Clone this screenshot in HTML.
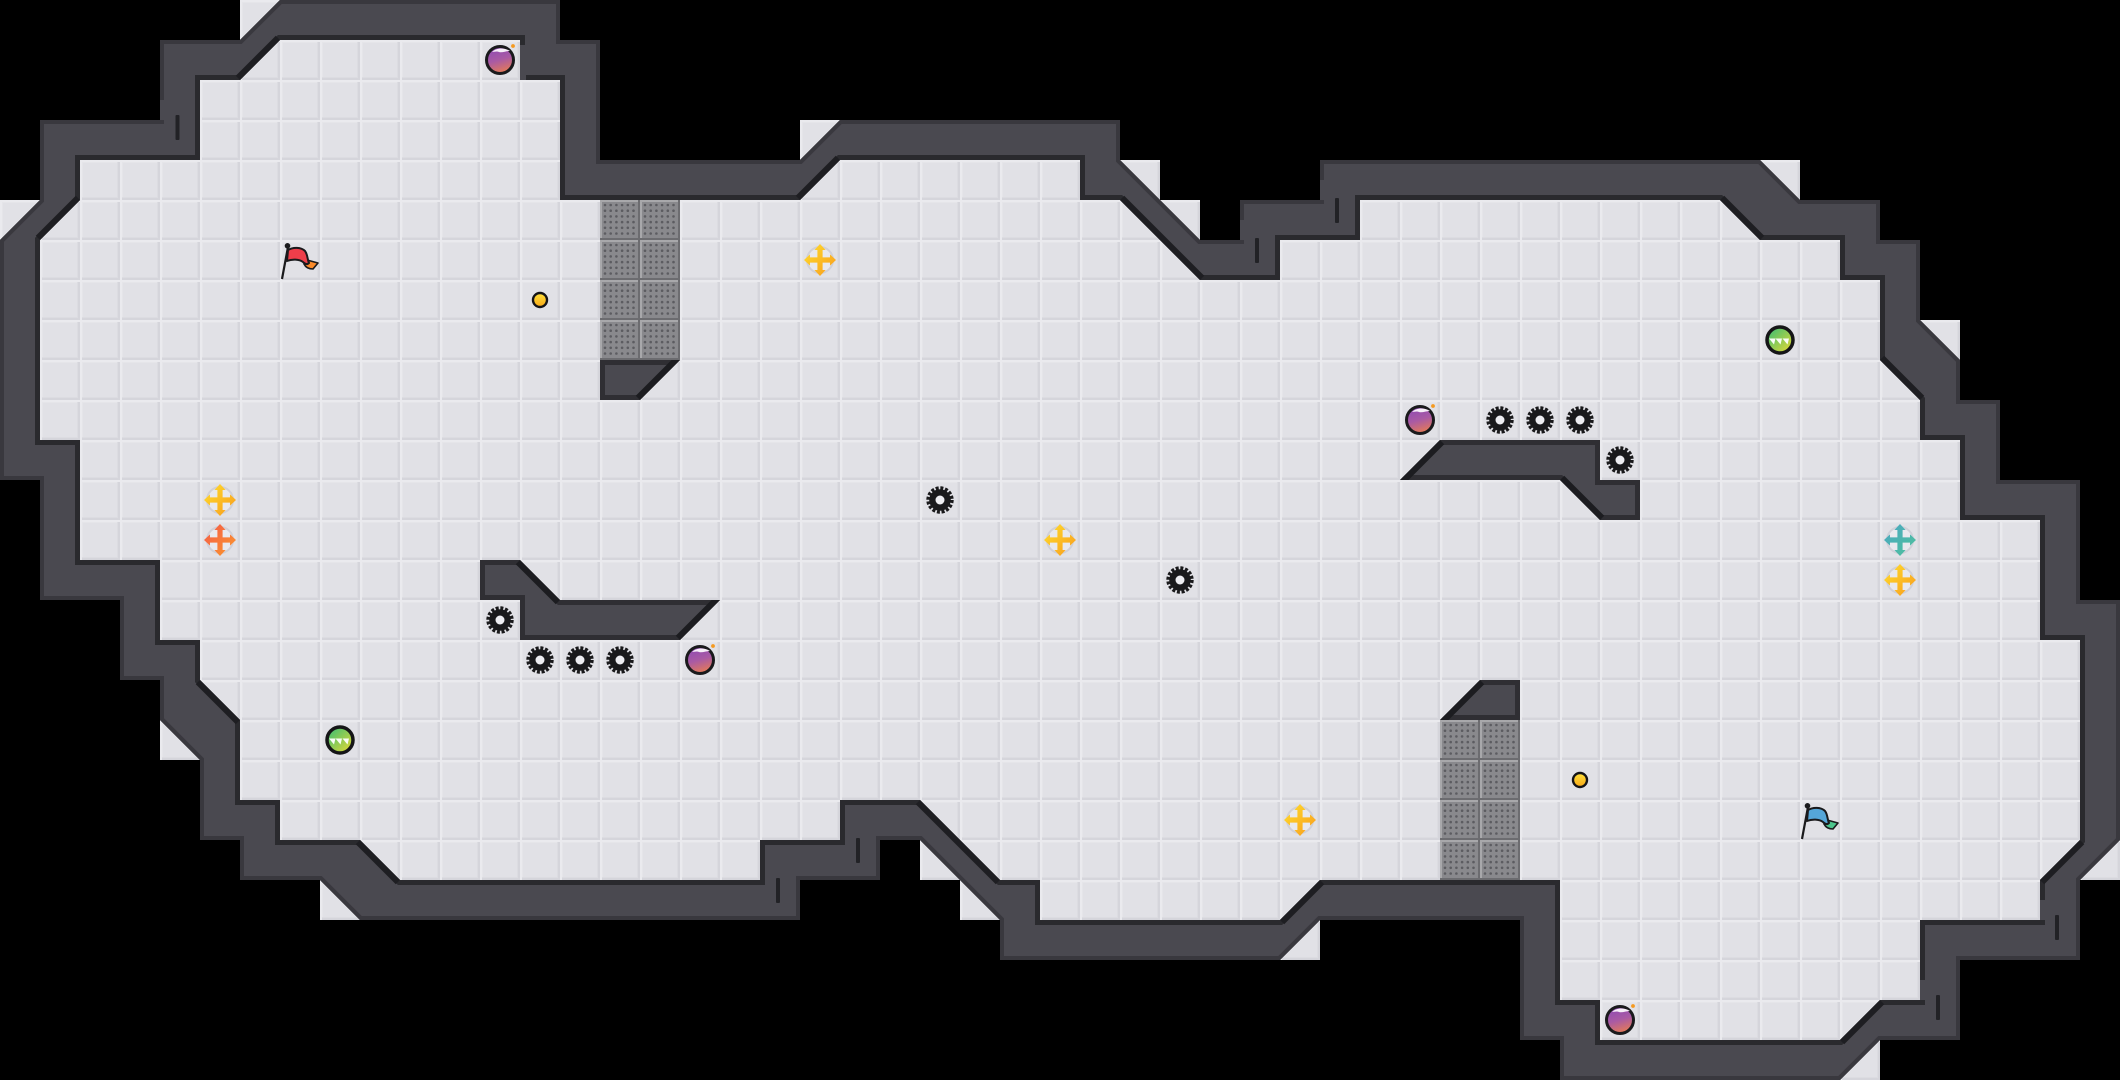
<!DOCTYPE html>
<html><head><meta charset="utf-8"><title>Level map</title>
<style>html,body{margin:0;padding:0;background:#000;width:2120px;height:1080px;overflow:hidden}svg{display:block}</style>
</head><body>
<svg xmlns="http://www.w3.org/2000/svg" width="2120" height="1080" viewBox="0 0 2120 1080">
<defs>
<pattern id="tile" width="40" height="40" patternUnits="userSpaceOnUse">
<rect width="40" height="40" fill="#e1e1e6"/>
<rect x="0" y="37" width="40" height="1" fill="#dcdce1"/>
<rect x="37" y="0" width="1" height="40" fill="#dcdce1"/>
<rect x="0" y="38" width="40" height="2" fill="#d5d5db"/>
<rect x="38" y="0" width="2" height="40" fill="#d5d5db"/>
<rect x="0" y="0" width="40" height="2" fill="#eaeaee"/>
<rect x="0" y="0" width="2" height="40" fill="#eaeaee"/>
<rect x="2" y="2" width="35" height="1" fill="#e5e5e9"/>
<rect x="2" y="2" width="1" height="35" fill="#e5e5e9"/>
</pattern>
<pattern id="metal" width="40" height="40" patternUnits="userSpaceOnUse">
<rect width="40" height="40" fill="#89898d"/>
<rect x="0" y="0" width="40" height="2" fill="#a8a8ab"/>
<rect x="0" y="0" width="2" height="40" fill="#a8a8ab"/>
<rect x="0" y="38" width="40" height="2" fill="#6c6c70"/>
<rect x="38" y="0" width="2" height="40" fill="#6c6c70"/>
<g fill="#5c5c61">
<circle cx="5" cy="5" r="1.3"/><circle cx="10.700" cy="5" r="1.3"/><circle cx="16.400" cy="5" r="1.3"/><circle cx="22.100" cy="5" r="1.3"/><circle cx="27.800" cy="5" r="1.3"/><circle cx="33.500" cy="5" r="1.3"/>
<circle cx="5" cy="10.700" r="1.3"/><circle cx="10.700" cy="10.700" r="1.3"/><circle cx="16.400" cy="10.700" r="1.3"/><circle cx="22.100" cy="10.700" r="1.3"/><circle cx="27.800" cy="10.700" r="1.3"/><circle cx="33.500" cy="10.700" r="1.3"/>
<circle cx="5" cy="16.400" r="1.3"/><circle cx="10.700" cy="16.400" r="1.3"/><circle cx="16.400" cy="16.400" r="1.3"/><circle cx="22.100" cy="16.400" r="1.3"/><circle cx="27.800" cy="16.400" r="1.3"/><circle cx="33.500" cy="16.400" r="1.3"/>
<circle cx="5" cy="22.100" r="1.3"/><circle cx="10.700" cy="22.100" r="1.3"/><circle cx="16.400" cy="22.100" r="1.3"/><circle cx="22.100" cy="22.100" r="1.3"/><circle cx="27.800" cy="22.100" r="1.3"/><circle cx="33.500" cy="22.100" r="1.3"/>
<circle cx="5" cy="27.800" r="1.3"/><circle cx="10.700" cy="27.800" r="1.3"/><circle cx="16.400" cy="27.800" r="1.3"/><circle cx="22.100" cy="27.800" r="1.3"/><circle cx="27.800" cy="27.800" r="1.3"/><circle cx="33.500" cy="27.800" r="1.3"/>
<circle cx="5" cy="33.500" r="1.3"/><circle cx="10.700" cy="33.500" r="1.3"/><circle cx="16.400" cy="33.500" r="1.3"/><circle cx="22.100" cy="33.500" r="1.3"/><circle cx="27.800" cy="33.500" r="1.3"/><circle cx="33.500" cy="33.500" r="1.3"/>
</g>
</pattern>
<linearGradient id="gy" x1="0" y1="0" x2="1" y2="1"><stop offset="0" stop-color="#ffdf2e"/><stop offset="1" stop-color="#f89a1e"/></linearGradient>
<linearGradient id="go" x1="0" y1="0" x2="1" y2="1"><stop offset="0" stop-color="#f4584a"/><stop offset="1" stop-color="#fb9a2c"/></linearGradient>
<linearGradient id="gt" x1="0" y1="0" x2="1" y2="1"><stop offset="0" stop-color="#4aa6c4"/><stop offset="1" stop-color="#4fc29a"/></linearGradient>
<linearGradient id="gb" x1="0.3" y1="0" x2="0.6" y2="1"><stop offset="0" stop-color="#8e4ab4"/><stop offset="0.5" stop-color="#a95aa4"/><stop offset="1" stop-color="#e87c52"/></linearGradient>
<linearGradient id="gg" x1="0" y1="0" x2="1" y2="1"><stop offset="0" stop-color="#30bc78"/><stop offset="1" stop-color="#eeda30"/></linearGradient>
<linearGradient id="gc" x1="0" y1="0" x2="0" y2="1"><stop offset="0" stop-color="#ffe23a"/><stop offset="1" stop-color="#f8a818"/></linearGradient>
<clipPath id="wallclip"><path transform="scale(40)" clip-rule="evenodd" d="M7 0H14V1H15V4H20L21 3H28V4L30 6H31V5H33V4H44L45 5H47V6H48V8L49 9V10H50V12H52V15H53V21L52 22V24H49V26H47L46 27H39V26H38V23H33L32 24H25V23L23 21H22V22H20V23H9L8 22H6V21H5V19L4 18V17H3V15H1V12H0V6L1 5V3H4V1H6Z M7 1L6 2H5V4H2V5L1 6V11H2V14H4V16H5V17L6 18V20H7V21H9L10 22H19V21H21V20H23L25 22H26V23H32L33 22H39V25H40V26H46L47 25H48V23H51V22L52 21V16H51V13H49V11H48V10L47 9V7H46V6H44L43 5H34V6H32V7H30L28 5H27V4H21L20 5H14V2H13V1Z"/></clipPath>
<clipPath id="obsclip"><path transform="scale(40)" d="M15 9H17L16 10H15Z M12 14H13L14 15H18L17 16H13V15H12Z M36 11H40V12H41V13H40L39 12H35Z M37 17H38V18H36Z"/></clipPath>
<g id="arr">
<circle cx="0" cy="0" r="13" fill="#e9e9ee" stroke="#d0d0d8" stroke-width="2"/>
<path d="M-2.6 -2.6V-10H-5.6L0 -16L5.6 -10H2.6V-2.6H10V-5.6L16 0L10 5.6V2.6H2.6V10H5.6L0 16L-5.6 10H-2.6V2.6H-10V5.6L-16 0L-10 -5.6V-2.6Z"/>
</g>
<g id="saw">
<circle r="10.8" fill="#1a1a1c"/>
<circle r="12" fill="none" stroke="#1a1a1c" stroke-width="3.4" stroke-dasharray="3 1.712"/>
<circle r="4.5" fill="#eeeef2"/>
</g>
<g id="bomb">
<circle cx="0" cy="0" r="13.5" fill="url(#gb)" stroke="#1a1a1c" stroke-width="3"/>
<path d="M-8 -8C-4 -12 4 -13 10 -9C6 -9 2 -7 -1 -8C-3 -9 -6 -8 -8 -8Z" fill="#f6eef8"/>
<circle cx="13" cy="-14" r="1.9" fill="#f59a20"/>
</g>
<g id="ball">
<circle r="13" fill="url(#gg)" stroke="#151517" stroke-width="3.5"/>
<path d="M-11 -1.5H-4.5L-6 4.5Z M-4.5 -1.5H2L0.5 4.500Z M2.5 -1.5H9L7.5 4.500Z" fill="#fff" opacity=".95"/>
</g>
<g id="coin"><circle r="7" fill="url(#gc)" stroke="#151517" stroke-width="2.4"/></g>
</defs>

<rect width="2120" height="1080" fill="#000"/>

<!-- floor -->
<path fill="url(#tile)" d="M280 40H520V80H560V200H800L840 160H1080V200H1120L1200 280H1280V240H1360V200H1720L1760 240H1840V280H1880V360L1920 400V440H1960V520H2040V640H2080V840L2040 880V920H1920V1000H1880L1840 1040H1600V1000H1560V880H1320L1280 920H1040V880H1000L920 800H840V840H760V880H400L360 840H280V800H240V720L200 680V640H160V560H80V440H40V240L80 200V160H200V80H240Z"/>
<path fill="url(#tile)" d="M240 0H280L240 40Z M800 120H840L800 160Z M1120 160H1160V200Z M1160 200H1200V240Z M1760 160H1800V200Z M1920 320H1960V360Z M2120 840V880H2080Z M1880 1040V1080H1840Z M1320 920V960H1280Z M920 840V880L960 880Z M960 880V920H1000Z M320 880V920H360Z M160 720V760H200Z M0 200H40L0 240Z"/>

<!-- metal blocks -->
<rect x="600" y="200" width="80" height="160" fill="url(#metal)"/>
<rect x="1440" y="720" width="80" height="160" fill="url(#metal)"/>

<!-- walls -->
<g clip-path="url(#wallclip)">
<rect width="2120" height="1080" fill="#4a4950"/>
<path fill="none" stroke="#39383e" stroke-width="8" d="M280 0H560V40H600V160H800L840 120H1120V160L1200 240H1240V200H1320V160H1760L1800 200H1880V240H1920V320L1960 360V400H2000V480H2080V600H2120V840L2080 880V960H1960V1040H1880L1840 1080H1560V1040H1520V920H1320L1280 960H1000V920L920 840H880V880H800V920H360L320 880H240V840H200V760L160 720V680H120V600H40V480H0V240L40 200V120H160V40H240Z"/>
<path fill="none" stroke="#2a2a2e" stroke-width="10" d="M280 40H520V80H560V200H800L840 160H1080V200H1120L1200 280H1280V240H1360V200H1720L1760 240H1840V280H1880V360L1920 400V440H1960V520H2040V640H2080V840L2040 880V920H1920V1000H1880L1840 1040H1600V1000H1560V880H1320L1280 920H1040V880H1000L920 800H840V840H760V880H400L360 840H280V800H240V720L200 680V640H160V560H80V440H40V240L80 200V160H200V80H240Z"/>
<path fill="none" stroke="#1e1e22" stroke-width="12" d="M280 40L240 80 M800 200L840 160 M1120 200L1200 280 M1720 200L1760 240 M1880 360L1920 400 M2080 840L2040 880 M1880 1000L1840 1040 M1320 880L1280 920 M1000 880L920 800 M400 880L360 840 M240 720L200 680 M80 200L40 240"/>
<g fill="#4a4950">
<rect x="520" y="45" width="6" height="35"/>
<rect x="160" y="100" width="5" height="20"/>
<rect x="2040" y="900" width="6" height="20"/>
<rect x="1920" y="980" width="6" height="20"/>
<rect x="1320" y="180" width="5" height="20"/>
<rect x="1240" y="220" width="5" height="20"/>
<rect x="834" y="820" width="6" height="20"/>
<rect x="754" y="860" width="6" height="20"/>
</g>
</g>
<!-- wall slits -->
<g fill="#222226">
<rect x="175.500" y="115" width="4" height="25" rx="1"/>
<rect x="1335" y="198" width="4" height="25" rx="1"/>
<rect x="1255" y="238" width="4" height="25" rx="1"/>
<rect x="856" y="838" width="4" height="25" rx="1"/>
<rect x="776" y="878" width="4" height="25" rx="1"/>
<rect x="2055" y="915" width="4" height="25" rx="1"/>
<rect x="1936" y="995" width="4" height="25" rx="1"/>
</g>

<!-- obstacles -->
<g clip-path="url(#obsclip)">
<rect width="2120" height="1080" fill="#4a4950"/>
<path fill="none" stroke="#2f2e33" stroke-width="10" d="M600 360H680L640 400H600Z M480 560H520L560 600H720L680 640H520V600H480Z M1440 440H1600V480H1640V520H1600L1560 480H1400Z M1480 680H1520V720H1440Z"/>
<path fill="none" stroke="#1c1c20" stroke-width="12" d="M680 360L640 400 M520 560L560 600 M720 600L680 640 M1440 440L1400 480 M1560 480L1600 520 M1480 680L1440 720"/>
</g>

<!-- arrows -->
<use href="#arr" x="820" y="260" fill="url(#gy)"/>
<use href="#arr" x="220" y="500" fill="url(#gy)"/>
<use href="#arr" x="1060" y="540" fill="url(#gy)"/>
<use href="#arr" x="1300" y="820" fill="url(#gy)"/>
<use href="#arr" x="1900" y="580" fill="url(#gy)"/>
<use href="#arr" x="220" y="540" fill="url(#go)"/>
<use href="#arr" x="1900" y="540" fill="url(#gt)"/>

<!-- saws -->
<use href="#saw" x="940" y="500"/>
<use href="#saw" x="1180" y="580"/>
<use href="#saw" x="500" y="620"/>
<use href="#saw" x="540" y="660"/>
<use href="#saw" x="580" y="660"/>
<use href="#saw" x="620" y="660"/>
<use href="#saw" x="1500" y="420"/>
<use href="#saw" x="1540" y="420"/>
<use href="#saw" x="1580" y="420"/>
<use href="#saw" x="1620" y="460"/>

<!-- bombs -->
<use href="#bomb" x="500" y="60"/>
<use href="#bomb" x="700" y="660"/>
<use href="#bomb" x="1420" y="420"/>
<use href="#bomb" x="1620" y="1020"/>

<!-- balls -->
<use href="#ball" x="1780" y="340"/>
<use href="#ball" x="340" y="740"/>

<!-- coins -->
<use href="#coin" x="540" y="300"/>
<use href="#coin" x="1580" y="780"/>

<!-- flags -->
<g transform="translate(280,240)" stroke="#1a1a1c" stroke-linejoin="round">
<path d="M8 7L2 39" stroke-width="2.2" fill="none"/>
<circle cx="7.500" cy="5.800" r="2.800" fill="#1a1a1c" stroke="none"/>
<path d="M27 20L38 23L33 29C29 29 26 28 24 24Z" fill="#f98a2a" stroke-width="1.6"/>
<path d="M8 10C13 7 21 7 25 11C28 15 27 19 29 23C27 25 25 24 23 22C19 19 12 19 7 21Z" fill="#ee3e4a" stroke-width="2"/>
</g>
<g transform="translate(1800,800)" stroke="#1a1a1c" stroke-linejoin="round">
<path d="M8 7L2 39" stroke-width="2.2" fill="none"/>
<circle cx="7.500" cy="5.800" r="2.800" fill="#1a1a1c" stroke="none"/>
<path d="M27 20L38 23L33 29C29 29 26 28 24 24Z" fill="#4cc48c" stroke-width="1.6"/>
<path d="M8 10C13 7 21 7 25 11C28 15 27 19 29 23C27 25 25 24 23 22C19 19 12 19 7 21Z" fill="#55a6d8" stroke-width="2"/>
</g>
</svg>
</body></html>
